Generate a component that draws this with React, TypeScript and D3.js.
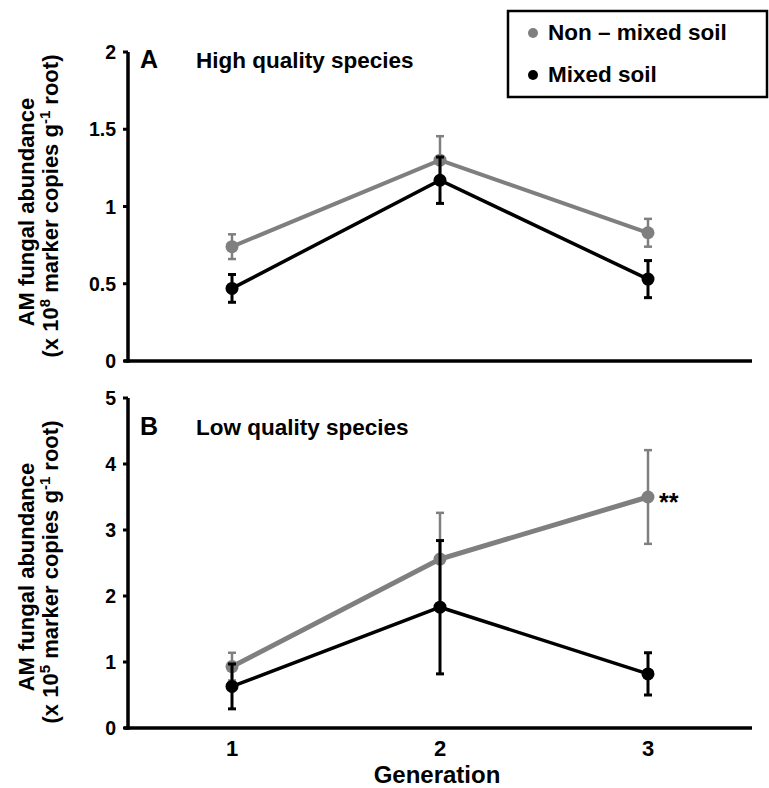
import React from "react";
import * as d3 from "d3";

const generations = [1, 2, 3];
const highNonMixed = [0.74, 1.3, 0.83];
const highNonMixedErr = [0.08, 0.155, 0.09];
const highMixed = [0.47, 1.17, 0.53];
const highMixedErr = [0.09, 0.15, 0.12];
const lowNonMixed = [0.93, 2.56, 3.5];
const lowNonMixedErr = [0.21, 0.7, 0.71];
const lowMixed = [0.63, 1.83, 0.82];
const lowMixedErr = [0.34, 1.01, 0.32];
const highTicks = [0, 0.5, 1, 1.5, 2];
const lowTicks = [0, 1, 2, 3, 4, 5];

const GRAY = "#7f7f7f";
const FONT = "'Liberation Sans', Arial, Helvetica, sans-serif";

const x = d3.scaleLinear().domain([0.5, 3.5]).range([128, 752]);

type Series = { vals: number[]; errs: number[]; color: string; lw: number; elw: number };

function Panel(props: {
  y0: number; y1: number; max: number; ticks: number[]; series: Series[];
  letter: string; title: string; titleY: number; exp: string; l1y: number; l2y: number;
  star?: boolean;
}) {
  const y = d3.scaleLinear().domain([0, props.max]).range([props.y1, props.y0]);
  const line = d3.line<number>().x((_, i) => x(generations[i])).y((v) => y(v));
  const fmt = (t: number) => String(t);
  return (
    <g>
      {props.series.map((s, k) => (
        <g key={k}>
          {s.vals.map((v, i) => (
            <g key={i} stroke={s.color} strokeWidth={s.elw}>
              <line x1={x(generations[i])} x2={x(generations[i])} y1={y(v - s.errs[i])} y2={y(v + s.errs[i])} />
              <line x1={x(generations[i]) - 4} x2={x(generations[i]) + 4} y1={y(v - s.errs[i])} y2={y(v - s.errs[i])} />
              <line x1={x(generations[i]) - 4} x2={x(generations[i]) + 4} y1={y(v + s.errs[i])} y2={y(v + s.errs[i])} />
            </g>
          ))}
          <path d={line(s.vals) || ""} fill="none" stroke={s.color} strokeWidth={s.lw} />
          {s.vals.map((v, i) => (
            <circle key={i} cx={x(generations[i])} cy={y(v)} r={6.5} fill={s.color} />
          ))}
        </g>
      ))}
      {/* axes */}
      <line x1={128} x2={128} y1={props.y0} y2={props.y1 + 1.75} stroke="#000" strokeWidth={3.5} />
      <line x1={124} x2={752} y1={props.y1} y2={props.y1} stroke="#000" strokeWidth={3.5} />
      {props.ticks.map((t) => (
        <g key={t}>
          <line x1={123} x2={128} y1={y(t)} y2={y(t)} stroke="#000" strokeWidth={3} />
          <text x={116} y={y(t)} dy="0.36em" textAnchor="end" fontFamily={FONT} fontWeight="bold" fontSize={19.5}>
            {fmt(t)}
          </text>
        </g>
      ))}
      <text x={140} y={props.titleY} fontFamily={FONT} fontWeight="bold" fontSize={25}>{props.letter}</text>
      <text x={196} y={props.titleY} fontFamily={FONT} fontWeight="bold" fontSize={22.5}>{props.title}</text>
      <text transform={`translate(34,${props.l1y}) rotate(-90)`} textAnchor="middle" fontFamily={FONT} fontWeight="bold" fontSize={22}>
        AM fungal abundance
      </text>
      <text transform={`translate(58,${props.l2y}) rotate(-90)`} textAnchor="middle" fontFamily={FONT} fontWeight="bold" fontSize={22}>
        (x 10<tspan dy="-8" fontSize={15}>{props.exp}</tspan>
        <tspan dy="8"> marker copies g</tspan>
        <tspan dy="-8" fontSize={15}>-1</tspan>
        <tspan dy="8"> root)</tspan>
      </text>
      {props.star && (
        <text x={x(3) + 11} y={y(props.series[0].vals[2])} dy="0.55em" fontFamily={FONT} fontWeight="bold" fontSize={25}>**</text>
      )}
    </g>
  );
}

export default function App() {
  return (
    <svg width={769} height={788} style={{ position: "absolute", left: 0, top: 0, background: "#fff" }}>
      <rect width={769} height={788} fill="#fff" />
      <Panel
        y0={52} y1={361} max={2} ticks={highTicks}
        series={[
          { vals: highNonMixed, errs: highNonMixedErr, color: GRAY, lw: 4, elw: 2.5 },
          { vals: highMixed, errs: highMixedErr, color: "#000", lw: 3.5, elw: 3 },
        ]}
        letter="A" title="High quality species" titleY={68} exp="8" l1y={212} l2y={206}
      />
      <Panel
        y0={398} y1={728} max={5} ticks={lowTicks}
        series={[
          { vals: lowNonMixed, errs: lowNonMixedErr, color: GRAY, lw: 5, elw: 2.5 },
          { vals: lowMixed, errs: lowMixedErr, color: "#000", lw: 3.5, elw: 3 },
        ]}
        letter="B" title="Low quality species" titleY={435} exp="5" l1y={577} l2y={572} star
      />
      {generations.map((g) => (
        <text key={g} x={x(g)} y={756} textAnchor="middle" fontFamily={FONT} fontWeight="bold" fontSize={22}>{g}</text>
      ))}
      <text x={437} y={783} textAnchor="middle" fontFamily={FONT} fontWeight="bold" fontSize={24}>Generation</text>
      {/* legend */}
      <rect x={508} y={11} width={259} height={86} fill="#fff" stroke="#000" strokeWidth={2.5} />
      <circle cx={533} cy={33} r={5} fill={GRAY} />
      <text x={548} y={40} fontFamily={FONT} fontWeight="bold" fontSize={22.5}>Non – mixed soil</text>
      <circle cx={533} cy={75} r={5} fill="#000" />
      <text x={548} y={82} fontFamily={FONT} fontWeight="bold" fontSize={22.5}>Mixed soil</text>
    </svg>
  );
}
